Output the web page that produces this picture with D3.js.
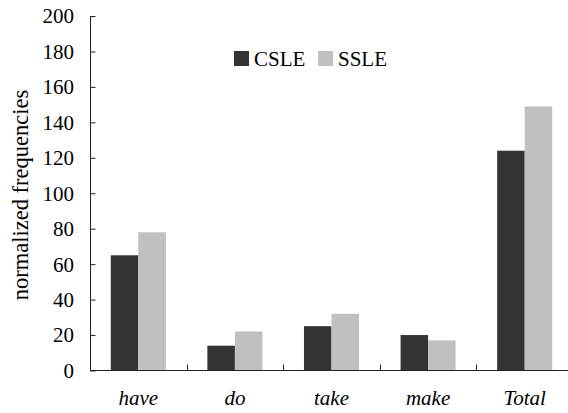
<!DOCTYPE html>
<html><head><meta charset="utf-8">
<script src="https://cdn.jsdelivr.net/npm/d3@7"></script>
<style>body{margin:0;background:#fff;font-family:"Liberation Serif",serif}svg{display:block;font-family:"Liberation Serif",serif}</style>
</head><body>
<script>
const categories = ["have", "do", "take", "make", "Total"];
const seriesNames = ["CSLE", "SSLE"];
const csle = [65, 14, 25, 20, 124];
const ssle = [78, 22, 32, 17, 149];
const yTicks = [0, 20, 40, 60, 80, 100, 120, 140, 160, 180, 200];
const colors = ["#333333", "#c0c0c0"];

const W = 568, H = 413;
const FF = '"Liberation Serif", serif';
const svg = d3.select("body").append("svg").attr("width", W).attr("height", H)
  .style("font-family", FF);

const x0 = d3.scaleBand().domain(categories).range([90, 573]).padding(0);
const x1 = d3.scaleBand().domain(seriesNames).range([x0.bandwidth()*0.215, x0.bandwidth()*0.785]).padding(0);
const y = d3.scaleLinear().domain([0, 200]).range([370.5, 16]);

const data = categories.map((c, i) => ({cat: c, vals: [csle[i], ssle[i]]}));

const g = svg.append("g");
g.selectAll("g.grp").data(data).join("g").attr("class", "grp")
  .attr("transform", d => `translate(${x0(d.cat)},0)`)
  .selectAll("rect").data(d => d.vals.map((v, j) => ({name: seriesNames[j], v, j})))
  .join("rect")
  .attr("x", d => x1(d.name)).attr("width", x1.bandwidth())
  .attr("y", d => y(d.v)).attr("height", d => y(0) - y(d.v))
  .attr("fill", d => colors[d.j]);

// y axis
const yAxis = svg.append("g").attr("transform", "translate(90.5,0)")
  .call(d3.axisRight(y).tickValues(yTicks).tickSize(5).tickFormat(""));
yAxis.select(".domain").attr("d", `M0,${y(200)}V${y(0)}`);
yAxis.selectAll("line,path").attr("stroke", "#222");
svg.append("g").selectAll("text").data(yTicks).join("text")
  .attr("x", 74).attr("y", d => y(d)).attr("dy", "0.35em")
  .attr("text-anchor", "end").style("font-family", FF).style("font-size", "21px")
  .attr("fill", "#000").text(d => d);

// x axis
const xAxis = svg.append("g").attr("transform", `translate(0,${y(0)})`);
xAxis.append("line").attr("x1", 90).attr("x2", 573).attr("stroke", "#222");
xAxis.selectAll("line.tk").data(categories.slice(1)).join("line").attr("class", "tk")
  .attr("x1", d => Math.round(x0(d)) + 0.5).attr("x2", d => Math.round(x0(d)) + 0.5)
  .attr("y1", 0).attr("y2", -6).attr("stroke", "#222");
svg.append("g").selectAll("text").data(categories).join("text")
  .attr("x", d => x0(d) + x0.bandwidth()/2).attr("y", 405)
  .attr("text-anchor", "middle").style("font-family", FF).style("font-size", "21px")
  .style("font-style", "italic").attr("fill", "#000").text(d => d);

// y label
svg.append("text").attr("transform", "translate(28,195) rotate(-90)")
  .attr("text-anchor", "middle").style("font-family", FF).style("font-size", "22.5px")
  .attr("fill", "#000").text("normalized frequencies");

// legend
const leg = svg.append("g");
const legX = [234, 318];
seriesNames.forEach((n, i) => {
  leg.append("rect").attr("x", legX[i]).attr("y", 51).attr("width", 15).attr("height", 15).attr("fill", colors[i]);
  leg.append("text").attr("x", legX[i] + 20).attr("y", 58.5).attr("dy", "0.35em")
    .style("font-family", FF).style("font-size", "21px").attr("fill", "#000").text(n);
});
</script>
</body></html>
